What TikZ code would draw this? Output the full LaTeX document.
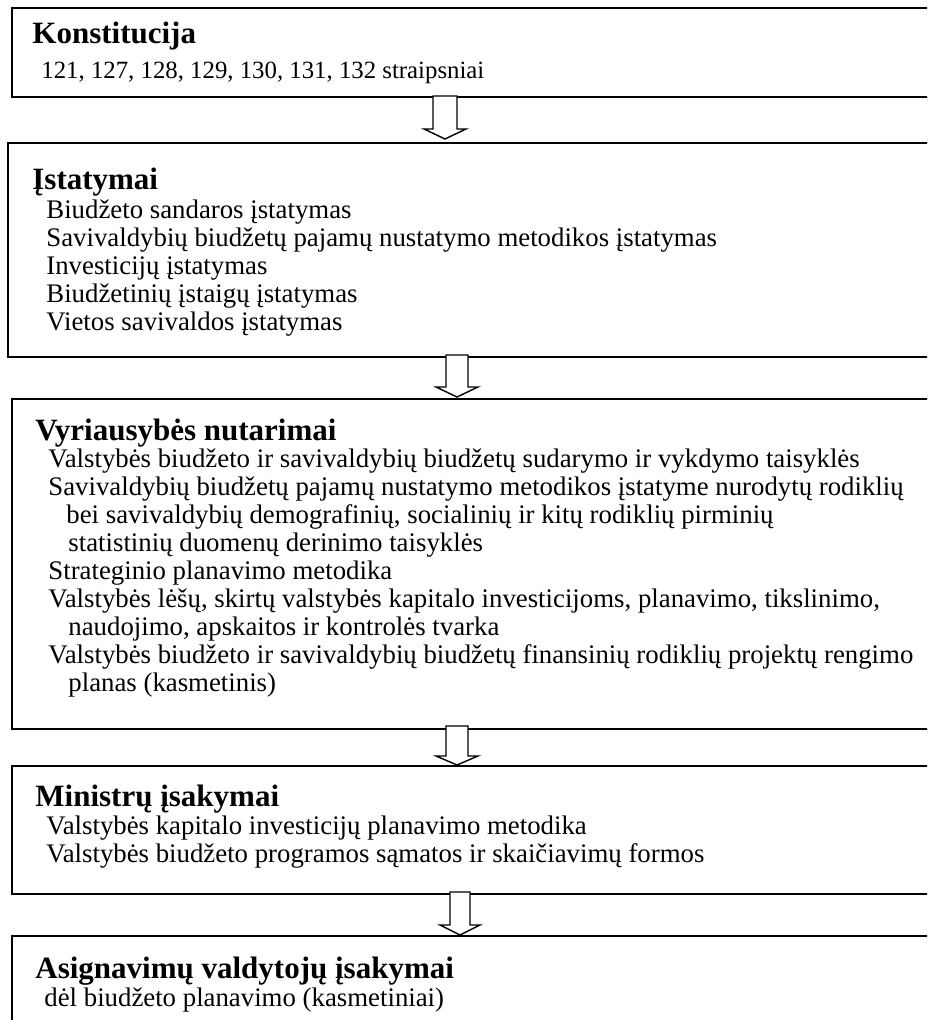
\documentclass[tikz,border=0pt]{standalone}
\usepackage{fontspec}
\setmainfont{Liberation Serif}
\usetikzlibrary{calc}
\begin{document}
\begin{tikzpicture}[x=0.5pt,y=-0.5pt,
  box/.style={draw=black,line width=1.3pt,fill=none,rectangle,inner sep=0pt,outer sep=0pt,anchor=north west},
  ttl/.style={anchor=base west,inner sep=0pt,font=\fontsize{15.5pt}{17pt}\selectfont\bfseries},
  txt/.style={anchor=base west,inner sep=0pt,font=\fontsize{13.4pt}{15pt}\selectfont},
  txts/.style={anchor=base west,inner sep=0pt,font=\fontsize{12.4pt}{14pt}\selectfont},
  blk/.style={draw=black,fill=white,line width=0.7pt,line join=miter}]
\useasboundingbox (0,0) rectangle (927,1020);
\clip (0,0) rectangle (927,1020);
% boxes
\node[box,minimum width=461.5pt,minimum height=44.5pt] (b1) at (12,8) {};
\node[box,minimum width=463.5pt,minimum height=107pt] (b2) at (8,143) {};
\node[box,minimum width=461.5pt,minimum height=165pt] (b3) at (12,399) {};
\node[box,minimum width=461.5pt,minimum height=64pt] (b4) at (12,766) {};
\node[box,minimum width=461.5pt,minimum height=60pt] (b5) at (12,936) {};
% texts
\node[ttl] (t1) at (32,44) {Konstitucija};
\node[txts] (t1a) at (41,79) {121, 127, 128, 129, 130, 131, 132 straipsniai};
\node[ttl] (t2) at (32,190) {Įstatymai};
\node[txt] (t2a) at (46,219) {Biudžeto sandaros įstatymas};
\node[txt] (t2b) at (46,247) {Savivaldybių biudžetų pajamų nustatymo metodikos įstatymas};
\node[txt] (t2c) at (46,275) {Investicijų įstatymas};
\node[txt] (t2d) at (46,303) {Biudžetinių įstaigų įstatymas};
\node[txt] (t2e) at (46,331) {Vietos savivaldos įstatymas};
\node[ttl] (t3) at (35,441) {Vyriausybės nutarimai};
\node[txt] (t3a) at (48,467) {Valstybės biudžeto ir savivaldybių biudžetų sudarymo ir vykdymo taisyklės};
\node[txt] (t3b) at (48,495) {Savivaldybių biudžetų pajamų nustatymo metodikos įstatyme nurodytų rodiklių};
\node[txt] (t3c) at (66,523) {bei savivaldybių demografinių, socialinių ir kitų rodiklių pirminių};
\node[txt] (t3d) at (68,551) {statistinių duomenų derinimo taisyklės};
\node[txt] (t3e) at (48,579) {Strateginio planavimo metodika};
\node[txt] (t3f) at (48,607) {Valstybės lėšų, skirtų valstybės kapitalo investicijoms, planavimo, tikslinimo,};
\node[txt] (t3g) at (68,635) {naudojimo, apskaitos ir kontrolės tvarka};
\node[txt] (t3h) at (48,663) {Valstybės biudžeto ir savivaldybių biudžetų finansinių rodiklių projektų rengimo};
\node[txt] (t3i) at (68,691) {planas (kasmetinis)};
\node[ttl] (t4) at (35,806) {Ministrų įsakymai};
\node[txt] (t4a) at (46,834) {Valstybės kapitalo investicijų planavimo metodika};
\node[txt] (t4b) at (46,862) {Valstybės biudžeto programos sąmatos ir skaičiavimų formos};
\node[ttl] (t5) at (35,978) {Asignavimų valdytojų įsakymai};
\node[txt] (t5a) at (44,1006) {dėl biudžeto planavimo (kasmetiniai)};
% block arrows: top of shaft and tip
\coordinate (a1s) at (445,96);  \coordinate (a1t) at (445,139);
\coordinate (a2s) at (457,355); \coordinate (a2t) at (457,397);
\coordinate (a3s) at (457,726); \coordinate (a3t) at (457,765);
\coordinate (a4s) at (460,892); \coordinate (a4t) at (460,935);
\draw[blk] (a1s) ++(-12,0) -- ($(a1t)+(-12,-10)$) -- ++(-9,0) -- (a1t) -- ++(21,-10) -- ++(-9,0) -- ($(a1s)+(12,0)$) -- cycle;
\draw[blk] (a2s) ++(-11,0) -- ($(a2t)+(-11,-10)$) -- ++(-10,0) -- (a2t) -- ++(21,-10) -- ++(-10,0) -- ($(a2s)+(11,0)$) -- cycle;
\draw[blk] (a3s) ++(-11,0) -- ($(a3t)+(-11,-9)$) -- ++(-10,0) -- (a3t) -- ++(21,-9) -- ++(-10,0) -- ($(a3s)+(11,0)$) -- cycle;
\draw[blk] (a4s) ++(-10,0) -- ($(a4t)+(-10,-10)$) -- ++(-10,0) -- (a4t) -- ++(20,-10) -- ++(-10,0) -- ($(a4s)+(10,0)$) -- cycle;
\end{tikzpicture}
\end{document}
